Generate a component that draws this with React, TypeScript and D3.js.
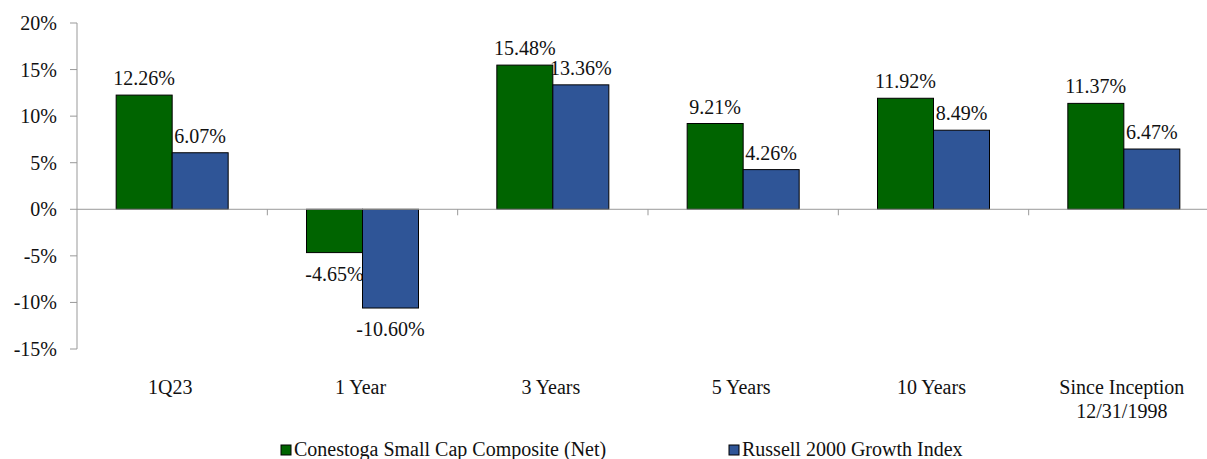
import React from "react";
import * as d3 from "d3";

const categories: string[][] = [["1Q23"], ["1 Year"], ["3 Years"], ["5 Years"], ["10 Years"], ["Since Inception", "12/31/1998"]];
const seriesNames = ["Conestoga Small Cap Composite (Net)", "Russell 2000 Growth Index"];
const composite = [12.26, -4.65, 15.48, 9.21, 11.92, 11.37];
const russell = [6.07, -10.6, 13.36, 4.26, 8.49, 6.47];
const yTicks = [20, 15, 10, 5, 0, -5, -10, -15];
const colors = ["#006400", "#2F5597"];

const W = 1207, H = 459;
const FONT = "Liberation Serif";

export default function App() {
  const x0 = d3.scaleBand<number>().domain(d3.range(categories.length)).range([77, 1219]);
  const x1 = d3.scaleBand<number>().domain([0, 1]).range([0, 112]);
  const y = d3.scaleLinear().domain([-15, 20]).range([349, 23]);
  const series = [composite, russell];
  const fmt = (v: number) => v.toFixed(2) + "%";
  const txt = { fontFamily: FONT, fontSize: 20, fill: "#111" } as React.CSSProperties;
  return (
    <svg width={W} height={H} style={{ position: "absolute", left: 0, top: 0 }}>
      {/* y axis */}
      <line x1={77} x2={77} y1={y(20)} y2={y(-15)} stroke="#999" />
      {yTicks.map((t) => (
        <g key={t}>
          <line x1={70} x2={77} y1={y(t)} y2={y(t)} stroke="#999" />
          <text x={57} y={y(t)} dy="0.35em" textAnchor="end" style={txt}>{t}%</text>
        </g>
      ))}
      {/* bars */}
      {series.map((s, si) =>
        s.map((v, i) => {
          const bx = (x0(i) as number) + (x0.bandwidth() - 112) / 2 + (x1(si) as number);
          const top = Math.min(y(v), y(0));
          const h = Math.abs(y(v) - y(0));
          return (
            <g key={si + "-" + i}>
              <rect x={bx} y={top} width={x1.bandwidth()} height={h} fill={colors[si]} stroke="#000" strokeWidth={1} />
              <text x={bx + x1.bandwidth() / 2} y={v >= 0 ? y(v) - 10 : y(v) + 28} textAnchor="middle" style={txt}>{fmt(v)}</text>
            </g>
          );
        })
      )}
      {/* zero line */}
      <line x1={77} x2={1219} y1={y(0)} y2={y(0)} stroke="#999" />
      {d3.range(1, categories.length).map((i) => (
        <line key={i} x1={x0(i) as number} x2={x0(i) as number} y1={y(0)} y2={y(0) + 6} stroke="#999" />
      ))}
      {/* category labels */}
      {categories.map((c, i) => {
        const cx = (x0(i) as number) + x0.bandwidth() / 2 - 2;
        return (
          <text key={i} x={cx} y={394} textAnchor="middle" style={txt}>
            {c.map((line, li) => (
              <tspan key={li} x={cx} dy={li === 0 ? 0 : 24}>{line}</tspan>
            ))}
          </text>
        );
      })}
      {/* legend */}
      {seriesNames.map((n, i) => {
        const lx = i === 0 ? 281 : 729;
        return (
          <g key={n}>
            <rect x={lx} y={445} width={10} height={10} fill={colors[i]} stroke="#000" />
            <text x={lx + 13} y={456} style={txt}>{n}</text>
          </g>
        );
      })}
    </svg>
  );
}
